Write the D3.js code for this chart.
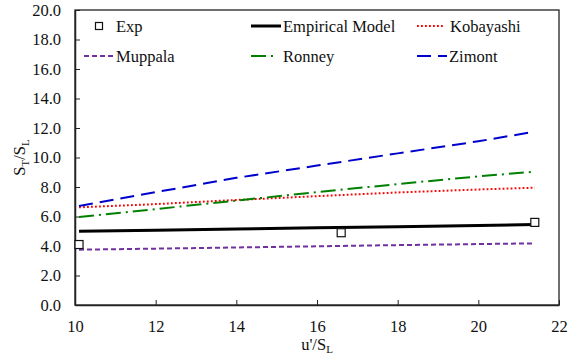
<!DOCTYPE html>
<html>
<head>
<meta charset="utf-8">
<script src="https://cdn.jsdelivr.net/npm/d3@7"></script>
<style>
  html, body { margin: 0; padding: 0; background: #fff; }
  svg { display: block; }
  svg text { font-family: "Liberation Serif", Tinos, "Times New Roman", "DejaVu Serif", serif; }
</style>
</head>
<body>
<svg id="chart" width="568" height="356"></svg>
<script>
// Turbulent-to-laminar flame speed ratio versus turbulence intensity
const uPrime = [10.1, 12, 14, 16, 18, 20, 21.4];
const empirical = [5.00, 5.06, 5.15, 5.24, 5.30, 5.39, 5.46];
const kobayashi = [6.62, 6.84, 7.12, 7.38, 7.63, 7.83, 7.95];
const muppala   = [3.75, 3.82, 3.90, 3.98, 4.06, 4.13, 4.18];
const ronney    = [5.97, 6.50, 7.08, 7.65, 8.20, 8.72, 9.04];
const zimont    = [6.71, 7.65, 8.62, 9.45, 10.28, 11.10, 11.75];

const expX = [10.1, 16.6, 21.4];
const expY = [4.1, 4.9, 5.6];

const xTicks = [10, 12, 14, 16, 18, 20, 22];
const yTicks = [0, 2, 4, 6, 8, 10, 12, 14, 16, 18, 20];

const series = [
  { name: "Empirical Model", values: empirical, color: "#000000", width: 3,   dash: null },
  { name: "Kobayashi",       values: kobayashi, color: "#ff0000", width: 2,   dash: "1.8,2.2" },
  { name: "Muppala",         values: muppala,   color: "#7030a0", width: 2,   dash: "5,3" },
  { name: "Ronney",          values: ronney,    color: "#008000", width: 2,   dash: "15,5,2,5" },
  { name: "Zimont",          values: zimont,    color: "#0000cc", width: 2,   dash: "14,7" }
];

const serif = "'Liberation Serif', Tinos, 'Times New Roman', 'DejaVu Serif', serif";
const fontSize = 16.5;
const svg = d3.select("#chart");
const plot = { left: 75, right: 559, top: 10, bottom: 305 };

const x = d3.scaleLinear().domain([10, 22]).range([plot.left, plot.right]);
const y = d3.scaleLinear().domain([0, 20]).range([plot.bottom, plot.top]);

// frame
svg.append("rect")
  .attr("x", plot.left).attr("y", plot.top)
  .attr("width", plot.right - plot.left).attr("height", plot.bottom - plot.top)
  .attr("fill", "none").attr("stroke", "#222").attr("stroke-width", 1.3);

// axes with inward ticks
const yAxis = d3.axisLeft(y).tickValues(yTicks).tickFormat(d3.format(".1f"))
  .tickSizeInner(-5).tickSizeOuter(0).tickPadding(14);
const xAxis = d3.axisBottom(x).tickValues(xTicks).tickFormat(d3.format("d"))
  .tickSizeInner(-5).tickSizeOuter(0).tickPadding(15);

const gy = svg.append("g").attr("transform", `translate(${plot.left},0)`).call(yAxis);
const gx = svg.append("g").attr("transform", `translate(0,${plot.bottom})`).call(xAxis);
[gx, gy].forEach(g => {
  g.attr("font-family", serif).attr("font-size", fontSize);
  g.selectAll("path.domain").attr("stroke", "#222").attr("stroke-width", 1.5);
  g.selectAll(".tick line").attr("stroke", "#222").attr("stroke-width", 1);
  g.selectAll(".tick text").attr("fill", "#111");
});

// model curves
const line = d3.line().x((d, i) => x(uPrime[i])).y(d => y(d));
series.forEach(s => {
  svg.append("path")
    .datum(s.values)
    .attr("d", line)
    .attr("fill", "none")
    .attr("stroke", s.color)
    .attr("stroke-width", s.width)
    .attr("stroke-dasharray", s.dash);
});

// experimental points
svg.append("g").selectAll("rect")
  .data(expX)
  .join("rect")
  .attr("x", (d) => x(d) - 4)
  .attr("y", (d, i) => y(expY[i]) - 4)
  .attr("width", 8).attr("height", 8)
  .attr("fill", "#fff").attr("stroke", "#111").attr("stroke-width", 1.2);

// legend
const legend = svg.append("g").attr("font-family", serif).attr("font-size", fontSize).attr("fill", "#111");
const legendItems = [
  { key: "Exp", lx: 99, row: 0, tx: 116 },
  { key: "Empirical Model", lx: [251, 281], row: 0, tx: 283 },
  { key: "Kobayashi", lx: [417, 444], row: 0, tx: 450 },
  { key: "Muppala", lx: [84, 114], row: 1, tx: 116 },
  { key: "Ronney", lx: [251, 275], row: 1, tx: 283 },
  { key: "Zimont", lx: [417, 447], row: 1, tx: 449 }
];
const rowY = [26, 56];
legendItems.forEach(it => {
  const cy = rowY[it.row];
  if (it.key === "Exp") {
    legend.append("rect").attr("x", it.lx - 3.5).attr("y", cy - 3.5)
      .attr("width", 7).attr("height", 7)
      .attr("fill", "#fff").attr("stroke", "#111").attr("stroke-width", 1.2);
  } else {
    const s = series.find(d => d.name === it.key);
    legend.append("line")
      .attr("x1", it.lx[0]).attr("x2", it.lx[1]).attr("y1", cy).attr("y2", cy)
      .attr("stroke", s.color).attr("stroke-width", s.width)
      .attr("stroke-dasharray", s.dash);
  }
  legend.append("text").attr("x", it.tx).attr("y", cy + 5.5).text(it.key);
});

// axis titles
const xt = svg.append("text").attr("x", (plot.left + plot.right) / 2).attr("y", 349.5)
  .attr("text-anchor", "middle").attr("font-family", serif).attr("font-size", fontSize).attr("fill", "#111");
xt.append("tspan").text("u'/S");
xt.append("tspan").attr("dy", 3.5).attr("font-size", 11).text("L");

const yt = svg.append("text")
  .attr("transform", `translate(25,${(plot.top + plot.bottom) / 2}) rotate(-90)`)
  .attr("text-anchor", "middle").attr("font-family", serif).attr("font-size", fontSize).attr("fill", "#111");
yt.append("tspan").text("S");
yt.append("tspan").attr("dy", 4).attr("font-size", 11).text("T");
yt.append("tspan").attr("dy", -4).text("/S");
yt.append("tspan").attr("dy", 4).attr("font-size", 11).text("L");
</script>
</body>
</html>
